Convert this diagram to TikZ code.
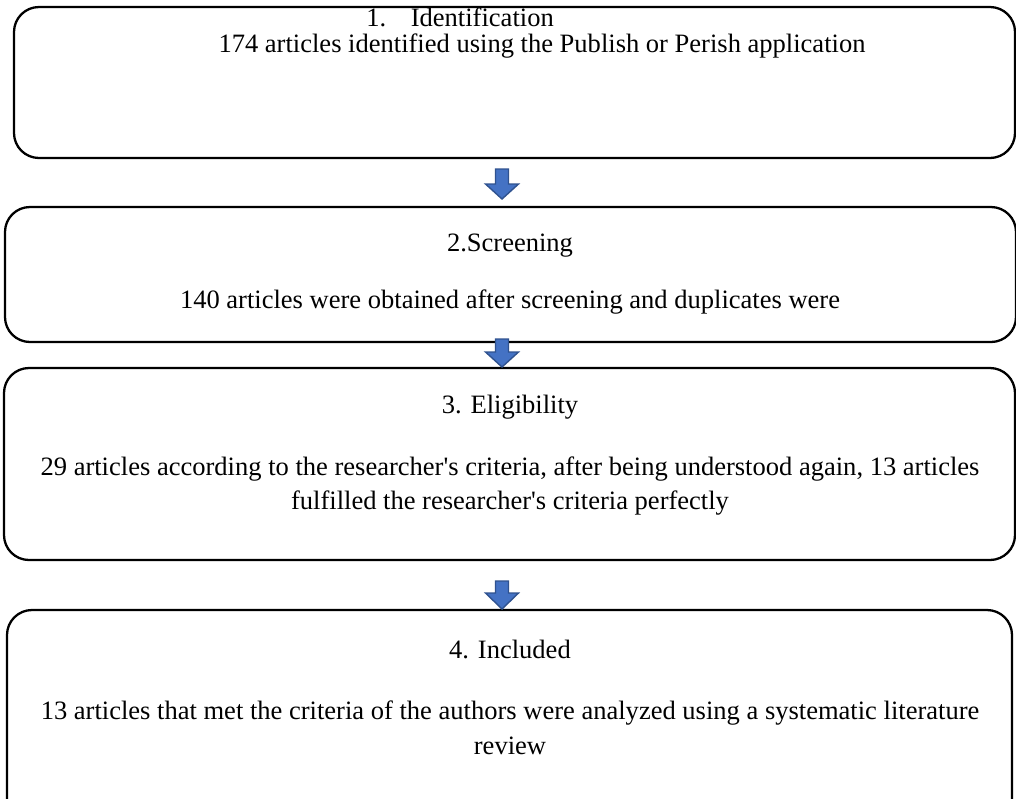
\documentclass[tikz,border=0pt]{standalone}
\usepackage{fontspec}
\setmainfont{Liberation Serif}
\usetikzlibrary{fit}

\begin{document}
\begin{tikzpicture}[x=0.02cm,y=-0.02cm,
  stagebox/.style={draw,line width=1.3pt,rounded corners=0.5cm,inner sep=0pt},
  txt/.style={inner sep=0pt,font=\fontsize{15.1pt}{19.8pt}\selectfont},
  blockarrow/.style={fill=arrowblue,draw=arrowedge,line width=0.8pt}]
\definecolor{arrowblue}{HTML}{4472C4}
\definecolor{arrowedge}{HTML}{2F528F}
\clip (0,0) rectangle (1016,798);
\useasboundingbox (0,0) rectangle (1016,798);
% the four stages
\node [stagebox,fit={(14,7) (1015,158)}] (ident) {};
\node [stagebox,fit={(5,207) (1016,342)}] (screen) {};
\node [stagebox,fit={(4,368) (1015,560)}] (elig) {};
\node [stagebox,fit={(7,610) (1012,840)}] (incl) {};
% texts
\node [txt,anchor=west] (identT) at (366,17) {1.\hspace{14pt}Identification};
\node [txt] (identB) at (542,46) {174 articles identified using the Publish or Perish application};
\node [txt] (screenT) at (510,246) {2.Screening};
\node [txt] (screenB) at (510,302) {140 articles were obtained after screening and duplicates were};
\node [txt] (eligT) at (510,407) {3. Eligibility};
\node [txt,align=center] (eligB) at (510,486) {29 articles according to the researcher\textquotesingle s criteria, after being understood again, 13 articles\\fulfilled the researcher\textquotesingle s criteria perfectly};
\node [txt] (inclT) at (510,649) {4. Included};
\node [txt,align=center] (inclB) at (510,728) {13 articles that met the criteria of the authors were analyzed using a systematic literature\\review};
% arrows between the stages
\foreach \t/\h/\p in {169/184/199,339/352/367,581/593/609}
  {\draw [blockarrow] (495.5,\t) -- (508.5,\t) -- (508.5,\h) -- (518.5,\h) -- (502,\p)
     -- (485.5,\h) -- (495.5,\h) -- cycle;}
\end{tikzpicture}
\end{document}
